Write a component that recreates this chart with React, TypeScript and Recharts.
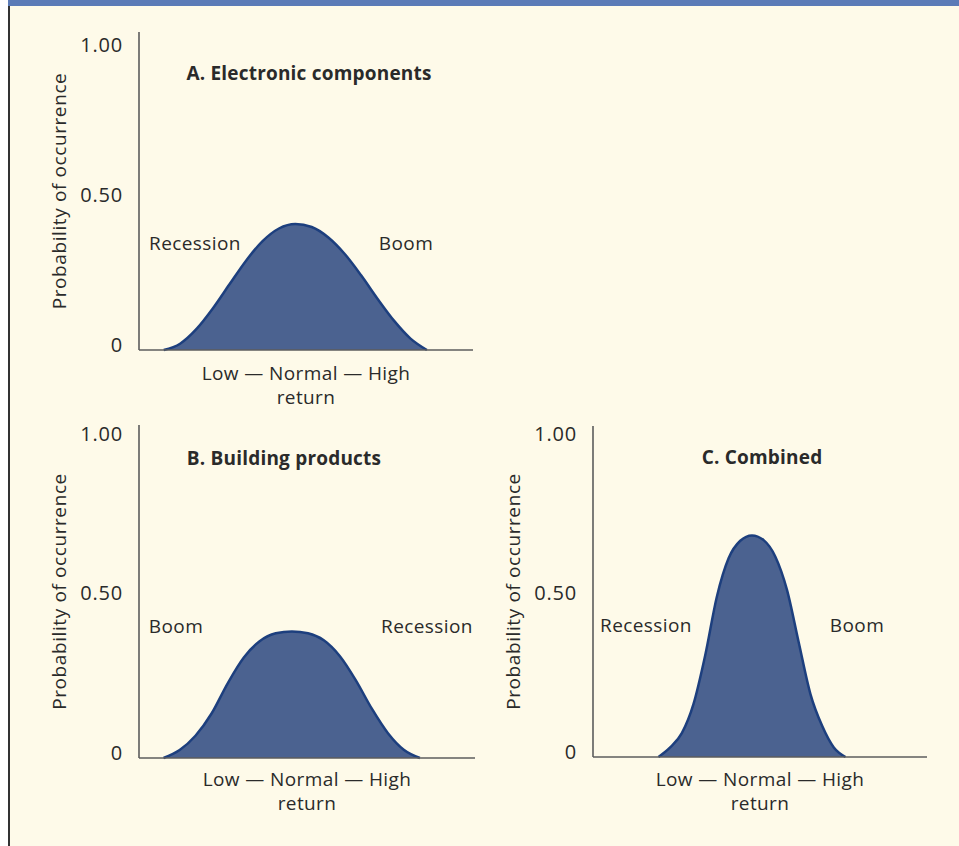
import { AreaChart, Area, XAxis, YAxis } from 'recharts';

// return axis runs 0..100 (Low -> High), probability on y
const returnA = [7.4, 12.3, 17.3, 22.2, 27.1, 32.0, 37.0, 41.9, 46.8, 51.7, 56.7, 61.6, 66.5, 71.4, 76.4, 81.3, 86.2];
const probA = [0, 0.021, 0.071, 0.14, 0.219, 0.297, 0.363, 0.405, 0.42, 0.41, 0.375, 0.32, 0.249, 0.171, 0.097, 0.038, 0];

const returnB = [7.3, 12.1, 16.8, 21.6, 26.4, 31.2, 35.9, 40.7, 45.5, 50.3, 55.0, 59.8, 64.5, 69.3, 74.1, 78.8, 83.6];
const probB = [0, 0.025, 0.07, 0.14, 0.235, 0.316, 0.367, 0.392, 0.398, 0.392, 0.37, 0.32, 0.245, 0.155, 0.078, 0.026, 0];

const returnC = [19.6, 23.1, 26.6, 30.1, 33.6, 37.1, 40.6, 44.1, 47.6, 51.1, 54.6, 58.1, 61.6, 65.1, 68.6, 72.1, 75.6];
const probC = [0, 0.03, 0.075, 0.167, 0.32, 0.505, 0.625, 0.68, 0.697, 0.682, 0.63, 0.525, 0.36, 0.198, 0.098, 0.03, 0];

const yTicks = [0, 0.5, 1];
const yTickLabels = ['0', '0.50', '1.00'];

const FONT = '"Open Sans", sans-serif';
const TEXT = '#2a2a2a';
const AXIS = '#5c5c5c';
const FILL = '#4b6290';
const EDGE = '#1d3f7e';

const toRows = (xs: number[], ys: number[]) => xs.map((x, i) => ({ ret: x, prob: ys[i] }));

interface PanelProps {
  left: number;
  top: number;
  width: number;
  height: number;
  axisX: number;
  plotTop: number;
  plotBottom: number;
  plotRight: number;
  yMax: number;
  rows: { ret: number; prob: number }[];
}

function Panel({ left, top, width, height, axisX, plotTop, plotBottom, plotRight, yMax, rows }: PanelProps) {
  const tick = (props: any) => {
    const { y, payload } = props;
    const i = yTicks.indexOf(payload.value);
    return (
      <text x={axisX - 16} y={y - 6} textAnchor="end" dominantBaseline="central" fontSize={20} letterSpacing={0.8} fill={TEXT} fontFamily={FONT}>
        {yTickLabels[i]}
      </text>
    );
  };
  const yLabel = (props: any) => {
    const vb = props.viewBox;
    const cx = axisX - 80;
    const cy = vb.y + vb.height / 2;
    return (
      <text x={cx} y={cy} transform={`rotate(-90, ${cx}, ${cy})`} textAnchor="middle" dominantBaseline="central" fontSize={19} letterSpacing={0.6} fill={TEXT} fontFamily={FONT}>
        Probability of occurrence
      </text>
    );
  };
  return (
    <div style={{ position: 'absolute', left, top }}>
      <AreaChart
        width={width}
        height={height}
        data={rows}
        margin={{ top: plotTop, right: width - plotRight, bottom: height - plotBottom - 1, left: 0 }}
      >
        <XAxis dataKey="ret" type="number" domain={[0, 100]} tick={false} tickLine={false} height={1} axisLine={{ stroke: AXIS, strokeWidth: 1.6 }} />
        <YAxis
          type="number"
          domain={[0, yMax]}
          ticks={yTicks}
          width={axisX}
          tick={tick}
          tickLine={false}
          axisLine={{ stroke: AXIS, strokeWidth: 1.6 }}
          label={yLabel}
        />
        <Area type="monotone" dataKey="prob" stroke={EDGE} strokeWidth={2.5} fill={FILL} fillOpacity={1} dot={false} isAnimationActive={false} />
      </AreaChart>
    </div>
  );
}

function Note({ x, y, children, bold }: { x: number; y: number; children: any; bold?: boolean }) {
  return (
    <div
      style={{
        position: 'absolute',
        left: x - 150,
        top: y - 12,
        width: 300,
        height: 24,
        lineHeight: '24px',
        textAlign: 'center',
        fontFamily: FONT,
        fontSize: 19,
        fontWeight: bold ? 700 : 400,
        letterSpacing: bold ? 0.2 : 0.4,
        color: TEXT,
        whiteSpace: 'nowrap',
      }}
    >
      {children}
    </div>
  );
}

export default function App() {
  return (
    <div style={{ position: 'absolute', left: 0, top: 0, width: 959, height: 846, background: '#fff', overflow: 'hidden' }}>
      <div style={{ position: 'absolute', left: 8, top: 0, width: 951, height: 846, background: '#fefae9' }} />
      <div style={{ position: 'absolute', left: 8, top: 6, width: 2, height: 840, background: '#333' }} />
      <div style={{ position: 'absolute', left: 8, top: 0, width: 951, height: 6, background: '#5b7bb7' }} />

      <Panel left={0} top={0} width={480} height={420} axisX={139} plotTop={32} plotBottom={350} plotRight={473} yMax={1.06} rows={toRows(returnA, probA)} />
      <Panel left={0} top={400} width={480} height={420} axisX={139} plotTop={25} plotBottom={358} plotRight={475} yMax={1.047} rows={toRows(returnB, probB)} />
      <Panel left={470} top={400} width={480} height={420} axisX={123} plotTop={26} plotBottom={357} plotRight={457} yMax={1.041} rows={toRows(returnC, probC)} />

      <Note x={309} y={73} bold>A. Electronic components</Note>
      <Note x={195} y={243}>Recession</Note>
      <Note x={406} y={243}>Boom</Note>
      <Note x={306} y={373}>Low — Normal — High</Note>
      <Note x={306} y={397}>return</Note>

      <Note x={284} y={458} bold>B. Building products</Note>
      <Note x={176} y={626}>Boom</Note>
      <Note x={427} y={626}>Recession</Note>
      <Note x={307} y={779}>Low — Normal — High</Note>
      <Note x={307} y={803}>return</Note>

      <Note x={762} y={457} bold>C. Combined</Note>
      <Note x={646} y={625}>Recession</Note>
      <Note x={857} y={625}>Boom</Note>
      <Note x={760} y={779}>Low — Normal — High</Note>
      <Note x={760} y={803}>return</Note>
    </div>
  );
}
